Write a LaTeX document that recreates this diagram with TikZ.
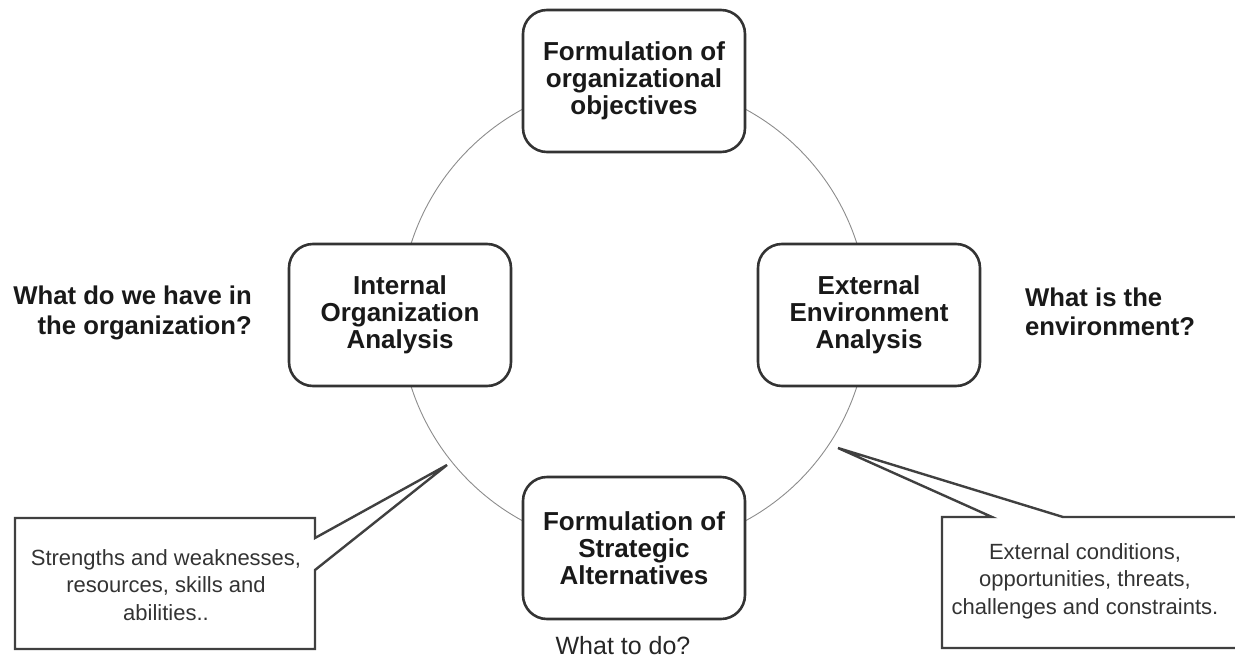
\documentclass[tikz,border=0pt]{standalone}
\usepackage{fontspec}
\setmainfont{Liberation Sans}
\begin{document}
\begin{tikzpicture}[x=1pt,y=-1pt,
  stage/.style={draw=black!80, line width=2.6pt, rounded corners=24pt, fill=white,
    minimum width=222pt, minimum height=142pt, align=center,
    font=\fontsize{26}{27}\selectfont\bfseries, text=black!90, inner sep=0pt},
  question/.style={font=\fontsize{25.7}{29.5}\selectfont\bfseries, text=black!90, inner sep=0pt},
  callout/.style={draw=black!75, line width=2.4pt, line join=miter},
  callouttext/.style={font=\fontsize{22}{27.5}\selectfont, text=black!80, align=center, inner sep=0pt},
  ring/.style={draw=black!45, line width=0.9pt}]
\useasboundingbox (0,0) rectangle (1235,659);
\clip (0,0) rectangle (1235,659);
\coordinate (c) at (634,315);
\draw[ring] (c) circle[radius=234];
\node[stage] (obj) at (634,81) {Formulation of\\organizational\\objectives};
\node[stage] (int) at (400,315) {Internal\\Organization\\Analysis};
\node[stage] (ext) at (869,315) {External\\Environment\\Analysis};
\node[stage] (alt) at (634,548) {Formulation of\\Strategic\\Alternatives};
\node[question, anchor=east, align=right] (qint) at (252,313) {What do we have in\\the organization?};
\node[question, anchor=west, align=left] (qext) at (1025,312) {What is the\\environment?};
\node[font=\fontsize{25}{29}\selectfont, text=black!85, anchor=base, inner sep=0pt] (qalt) at (623,654) {What to do?};
\coordinate (tipL) at (447,465);
\draw[callout] (15,518) -- (315,518) -- (315,538) -- (tipL) -- (315,570) -- (315,649) -- (15,649) -- cycle;
\node[callouttext] (tL) at (166,585) {Strengths and weaknesses,\\resources, skills and\\abilities..};
\coordinate (tipR) at (838,448);
\draw[callout] (1250,517) -- (1063,517) -- (tipR) -- (992,517) -- (942,517) -- (942,648) -- (1250,648);
\node[callouttext] (tR) at (1085,581) {External conditions,\\opportunities, threats,\\challenges and constraints.};
\end{tikzpicture}
\end{document}
